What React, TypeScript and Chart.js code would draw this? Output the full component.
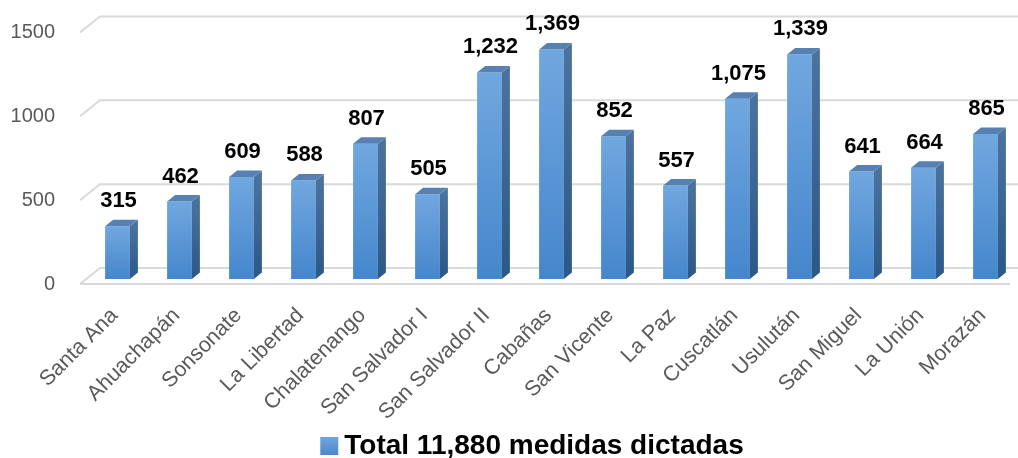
import React, { useEffect, useRef } from "react";
import { Chart, registerables } from "chart.js";

Chart.register(...registerables);

const categories = [
  "Santa Ana",
  "Ahuachapán",
  "Sonsonate",
  "La Libertad",
  "Chalatenango",
  "San Salvador I",
  "San Salvador II",
  "Cabañas",
  "San Vicente",
  "La Paz",
  "Cuscatlán",
  "Usulután",
  "San Miguel",
  "La Unión",
  "Morazán",
];
const values = [315, 462, 609, 588, 807, 505, 1232, 1369, 852, 557, 1075, 1339, 641, 664, 865];
const yTicks = [0, 500, 1000, 1500];
const legendLabel = "Total 11,880 medidas dictadas";

const FONT = "'Liberation Sans', Arial, sans-serif";
const GRID = "#d9d9d9";
const DEPTH_X = 8;
const DEPTH_Y = 6.5;
const BACK_DX = 13.5;
const BACK_DY = -11;
const FRONT_DX = -6.5;
const FRONT_DY = 5;

const wallPlugin = {
  id: "wall3d",
  beforeDatasetsDraw(chart: any) {
    const { ctx, chartArea } = chart;
    const ys = chart.scales.y;
    ctx.save();
    ctx.strokeStyle = GRID;
    ctx.lineWidth = 2;
    yTicks.forEach((v) => {
      const y = ys.getPixelForValue(v);
      ctx.beginPath();
      ctx.moveTo(chartArea.left + FRONT_DX, y + FRONT_DY);
      ctx.lineTo(chartArea.left + BACK_DX, y + BACK_DY);
      ctx.lineTo(chartArea.right + BACK_DX + 10, y + BACK_DY);
      ctx.stroke();
    });
    const y0 = ys.getPixelForValue(0);
    ctx.beginPath();
    ctx.moveTo(chartArea.left + FRONT_DX, y0 + FRONT_DY);
    ctx.lineTo(chartArea.right + FRONT_DX, y0 + FRONT_DY);
    ctx.stroke();
    ctx.restore();
  },
  afterDatasetsDraw(chart: any) {
    const { ctx } = chart;
    const meta = chart.getDatasetMeta(0);
    ctx.save();
    meta.data.forEach((bar: any, i: number) => {
      const { x, y, base, width } = bar.getProps(["x", "y", "base", "width"], true);
      const l = x - width / 2;
      const r = x + width / 2;
      const sg = ctx.createLinearGradient(0, y, 0, base);
      sg.addColorStop(0, "#4b729d");
      sg.addColorStop(1, "#2b5887");
      ctx.fillStyle = sg;
      ctx.beginPath();
      ctx.moveTo(r, y);
      ctx.lineTo(r + DEPTH_X, y - DEPTH_Y);
      ctx.lineTo(r + DEPTH_X, base - DEPTH_Y);
      ctx.lineTo(r, base);
      ctx.closePath();
      ctx.fill();
      ctx.fillStyle = "#5681b2";
      ctx.beginPath();
      ctx.moveTo(l, y);
      ctx.lineTo(l + DEPTH_X, y - DEPTH_Y);
      ctx.lineTo(r + DEPTH_X, y - DEPTH_Y);
      ctx.lineTo(r, y);
      ctx.closePath();
      ctx.fill();
      ctx.fillStyle = "#000000";
      ctx.font = `bold 22px ${FONT}`;
      ctx.textAlign = "center";
      ctx.textBaseline = "alphabetic";
      ctx.fillText(values[i].toLocaleString("en-US"), x + 1, y - 19);
    });
    ctx.restore();
  },
  afterDraw(chart: any) {
    const { ctx } = chart;
    ctx.save();
    ctx.font = `bold 28px ${FONT}`;
    const tw = ctx.measureText(legendLabel).width;
    const box = 18;
    const gap = 6;
    const total = box + gap + tw;
    const cx = chart.width / 2 + 23;
    const sx = cx - total / 2;
    const baseline = 454;
    const g = ctx.createLinearGradient(0, baseline - 17, 0, baseline + 1);
    g.addColorStop(0, "#70a6dd");
    g.addColorStop(1, "#4a88cb");
    ctx.fillStyle = g;
    ctx.fillRect(sx, baseline - 17, box, box);
    ctx.fillStyle = "#000000";
    ctx.textAlign = "left";
    ctx.textBaseline = "alphabetic";
    ctx.fillText(legendLabel, sx + box + gap, baseline);
    ctx.restore();
  },
};

export default function App() {
  const ref = useRef<HTMLCanvasElement | null>(null);
  useEffect(() => {
    if (!ref.current) return;
    const chart = new Chart(ref.current, {
      type: "bar",
      data: {
        labels: categories,
        datasets: [
          {
            label: legendLabel,
            data: values,
            categoryPercentage: 1,
            barPercentage: 0.4,
            borderWidth: 0,
            backgroundColor: (c: any) => {
              const ch = c.chart;
              if (!ch.chartArea || c.raw === undefined) return "#5b9bd5";
              const ys = ch.scales.y;
              const top = ys.getPixelForValue(c.raw);
              const bot = ys.getPixelForValue(0);
              const g = ch.ctx.createLinearGradient(0, top, 0, bot);
              g.addColorStop(0, "#71a7df");
              g.addColorStop(1, "#4586cc");
              return g;
            },
          },
        ],
      },
      options: {
        responsive: false,
        animation: false,
        devicePixelRatio: 1,
        layout: { padding: { top: 27.5, right: 1.5, left: 0, bottom: 0 } },
        plugins: {
          legend: { display: false },
          tooltip: { enabled: false },
        },
        scales: {
          x: {
            grid: { display: false, drawTicks: false },
            border: { display: false },
            ticks: {
              autoSkip: false,
              minRotation: 45,
              maxRotation: 45,
              padding: 24,
              labelOffset: -3,
              color: "#595959",
              font: { family: FONT, size: 21.5 },
            },
            afterFit: (s: any) => {
              s.height = 179;
              s.paddingLeft = 0;
              s.paddingRight = 0;
            },
          },
          y: {
            min: 0,
            max: 1500,
            grid: { display: false, drawTicks: false },
            border: { display: false },
            ticks: {
              stepSize: 500,
              padding: 31.5,
              labelOffset: 5,
              color: "#595959",
              font: { family: FONT, size: 20 },
              callback: (v: any) => String(v),
            },
            afterFit: (s: any) => {
              s.width = 86.5;
              s.paddingTop = 0;
              s.paddingBottom = 0;
            },
          },
        },
      },
      plugins: [wallPlugin],
    } as any);
    return () => chart.destroy();
  }, []);
  return (
    <div style={{ position: "absolute", left: 0, top: 0, width: 1018, height: 458, background: "#fff" }}>
      <canvas ref={ref} width={1018} height={458} />
    </div>
  );
}
